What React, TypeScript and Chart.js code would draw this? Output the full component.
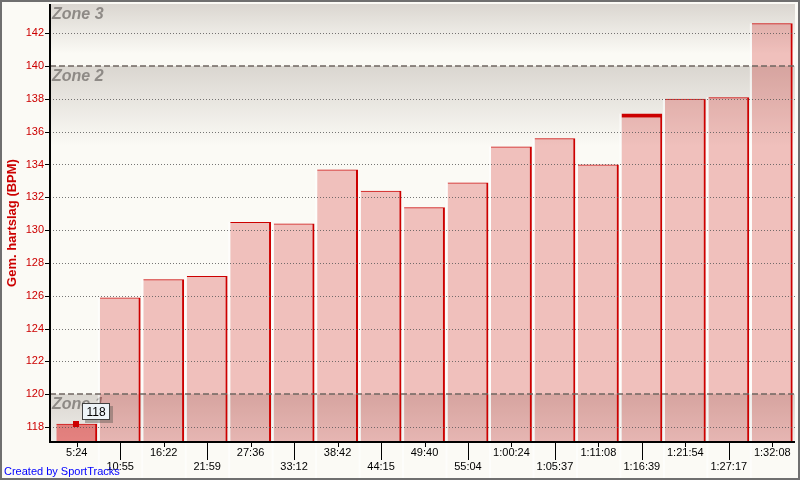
import React, { useEffect, useRef } from 'react';
import { Chart, registerables } from 'chart.js';

Chart.register(...registerables);

const timeLabels = ['5:24', '10:55', '16:22', '21:59', '27:36', '33:12', '38:42', '44:15', '49:40', '55:04', '1:00:24', '1:05:37', '1:11:08', '1:16:39', '1:21:54', '1:27:17', '1:32:08'];
const avgHeartRate = [118.2, 125.9, 127.0, 127.2, 130.5, 130.4, 133.7, 132.4, 131.4, 132.9, 135.1, 135.6, 134.0, 137.1, 138.0, 138.1, 142.6];
const yAxisMin = 117.09;
const yAxisMax = 143.78;
const yTickStep = 2;
const zoneLimits = [120, 140];
const zoneNames = ['Zone 1', 'Zone 2', 'Zone 3'];
const selectedIndex = 0;
const markedIndex = 13;
const tooltipText = '118';
const yTitle = 'Gem. hartslag (BPM)';
const creditText = 'Created by SportTracks';

const FONT = '"Liberation Sans", Arial, sans-serif';
const BG = '#FBFAF5';
const RED = '#CC0000';

const sportPlugin = {
  id: 'sportTracks',
  beforeDraw(chart: any) {
    const { ctx, width, height } = chart;
    ctx.save();
    ctx.fillStyle = BG;
    ctx.fillRect(0, 0, width, height);
    ctx.restore();
  },
  beforeDatasetsDraw(chart: any) {
    const { ctx, chartArea: ca, scales } = chart;
    const y = scales.y;
    const L = ca.left - 5;
    const R = ca.right + 1;
    const bounds = [y.max, zoneLimits[1], zoneLimits[0], y.min];
    const names = [zoneNames[2], zoneNames[1], zoneNames[0]];
    ctx.save();
    for (let i = 0; i < 3; i++) {
      const top = y.getPixelForValue(bounds[i]);
      const bot = y.getPixelForValue(bounds[i + 1]);
      const fadeLen = i === 0 ? (bot - top) * 0.8 : i === 1 ? 80 : bot - top;
      const g = ctx.createLinearGradient(0, top, 0, top + fadeLen);
      g.addColorStop(0, '#DAD6D0');
      g.addColorStop(1, i === 2 ? '#EFEDE9' : BG);
      ctx.fillStyle = g;
      ctx.fillRect(L, top, R - L, bot - top);
      ctx.font = 'italic bold 16px ' + FONT;
      ctx.fillStyle = '#8E8A86';
      ctx.textBaseline = 'alphabetic';
      ctx.textAlign = 'left';
      ctx.fillText(names[i], L + 2, top + 14.5);
    }
    ctx.restore();
  },
  afterDatasetsDraw(chart: any) {
    const { ctx, chartArea: ca, scales } = chart;
    const y = scales.y;
    const x = scales.x;
    const L = ca.left - 5;
    const R = ca.right + 1;
    const meta = chart.getDatasetMeta(0);
    ctx.save();
    ctx.fillStyle = 'rgba(255,255,255,0.6)';
    meta.data.forEach((el: any, i: number) => {
      const p = el.getProps(['x', 'y', 'base', 'width'], true);
      if (i === 0) return;
      ctx.fillRect(p.x - p.width / 2 - 2, p.y, 2, p.base - p.y);
    });
    ctx.strokeStyle = 'rgba(85,85,85,0.8)';
    ctx.lineWidth = 1;
    ctx.setLineDash([1, 2]);
    for (let v = Math.ceil(yAxisMin / yTickStep) * yTickStep; v <= yAxisMax; v += yTickStep) {
      if (zoneLimits.includes(v)) continue;
      const py = Math.round(y.getPixelForValue(v)) + 0.5;
      ctx.beginPath();
      ctx.moveTo(L, py);
      ctx.lineTo(R, py);
      ctx.stroke();
    }
    ctx.strokeStyle = 'rgba(110,100,95,0.75)';
    ctx.lineWidth = 2;
    ctx.setLineDash([6, 3]);
    zoneLimits.forEach((v) => {
      const py = Math.round(y.getPixelForValue(v));
      ctx.beginPath();
      ctx.moveTo(L, py);
      ctx.lineTo(R, py);
      ctx.stroke();
    });
    ctx.setLineDash([]);
    ctx.fillStyle = '#000';
    ctx.fillRect(L - 1, ca.top, 2, ca.bottom - ca.top + 1);
    ctx.fillRect(L - 1, ca.bottom - 1, R - L + 1, 2);
    for (let v = Math.ceil(yAxisMin / yTickStep) * yTickStep; v <= yAxisMax; v += yTickStep) {
      const py = Math.round(y.getPixelForValue(v));
      ctx.fillRect(L - 5, py, 5, 1);
    }
    timeLabels.forEach((_, i) => {
      const px = Math.round(x.getPixelForTick(i));
      ctx.fillRect(px, ca.bottom, 1, i % 2 ? 18 : 5);
    });
    const sel = meta.data[selectedIndex].getProps(['x', 'y'], true);
    ctx.fillStyle = RED;
    ctx.fillRect(Math.round(sel.x) - 4, Math.round(sel.y) - 3, 6, 6);
    const bx = Math.round(sel.x) + 5;
    const by = Math.round(sel.y) - 21;
    const bw = 28;
    const bh = 17;
    ctx.fillStyle = 'rgba(95,90,85,0.45)';
    ctx.fillRect(bx + 3, by + 3, bw, bh);
    ctx.fillStyle = '#EEF4F8';
    ctx.fillRect(bx, by, bw, bh);
    ctx.strokeStyle = '#404040';
    ctx.lineWidth = 1;
    ctx.strokeRect(bx + 0.5, by + 0.5, bw - 1, bh - 1);
    ctx.fillStyle = '#000';
    ctx.font = '12px ' + FONT;
    ctx.textAlign = 'center';
    ctx.textBaseline = 'middle';
    ctx.fillText(tooltipText, bx + bw / 2, by + bh / 2 + 1);
    ctx.restore();
  },
  afterDraw(chart: any) {
    const { ctx, width, height } = chart;
    ctx.save();
    ctx.fillStyle = '#0000FF';
    ctx.font = '11px ' + FONT;
    ctx.textAlign = 'left';
    ctx.textBaseline = 'alphabetic';
    ctx.fillText(creditText, 4, 475);
    ctx.strokeStyle = '#6F6F6F';
    ctx.lineWidth = 2;
    ctx.strokeRect(1, 1, width - 2, height - 2);
    ctx.restore();
  },
};

export default function App() {
  const canvasRef = useRef<HTMLCanvasElement | null>(null);

  useEffect(() => {
    document.body.style.margin = '0';
    const canvas = canvasRef.current;
    if (!canvas) return;
    const chart = new Chart(canvas, {
      type: 'bar',
      data: {
        labels: timeLabels,
        datasets: [
          {
            data: avgHeartRate,
            backgroundColor: (c: any) => (c.dataIndex === selectedIndex ? 'rgba(215,0,0,0.45)' : 'rgba(204,0,0,0.23)'),
            borderColor: RED,
            borderWidth: (c: any) =>
              c.dataIndex === markedIndex
                ? { top: 4, right: 2, left: 0, bottom: 0 }
                : { top: 1, right: 2, left: 0, bottom: 0 },
            borderSkipped: false,
            barPercentage: 0.94,
            categoryPercentage: 1,
          } as any,
        ],
      },
      options: {
        responsive: false,
        animation: false,
        events: [],
        layout: { padding: { left: 0, right: 6, top: 4, bottom: 0 } },
        plugins: { legend: { display: false }, tooltip: { enabled: false } },
        scales: {
          x: {
            type: 'category',
            offset: true,
            grid: { display: false, drawTicks: false },
            border: { display: false },
            ticks: {
              autoSkip: false,
              maxRotation: 0,
              minRotation: 0,
              padding: 4,
              color: '#000',
              font: { family: FONT, size: 11, lineHeight: 1.27 },
              callback: (_v: any, i: number) => (i % 2 ? ['', timeLabels[i]] : timeLabels[i]),
            },
            afterFit: (s: any) => {
              s.height = 38;
              s.paddingLeft = 0;
              s.paddingRight = 0;
            },
          },
          y: {
            type: 'linear',
            min: yAxisMin,
            max: yAxisMax,
            grid: { display: false, drawTicks: false },
            border: { display: false },
            ticks: {
              stepSize: yTickStep,
              includeBounds: false,
              padding: 11,
              color: RED,
              font: { family: FONT, size: 11 },
            },
            title: {
              display: true,
              text: yTitle,
              color: RED,
              font: { family: FONT, size: 13, weight: 'bold' },
              padding: { top: 5, bottom: 0 },
            },
            afterFit: (s: any) => {
              s.width = 55;
              s.paddingTop = 0;
              s.paddingBottom = 0;
            },
          },
        },
      } as any,
      plugins: [sportPlugin as any],
    });
    return () => chart.destroy();
  }, []);

  return (
    <div style={{ width: 800, height: 480 }}>
      <canvas ref={canvasRef} width={800} height={480} style={{ display: 'block' }} />
    </div>
  );
}
